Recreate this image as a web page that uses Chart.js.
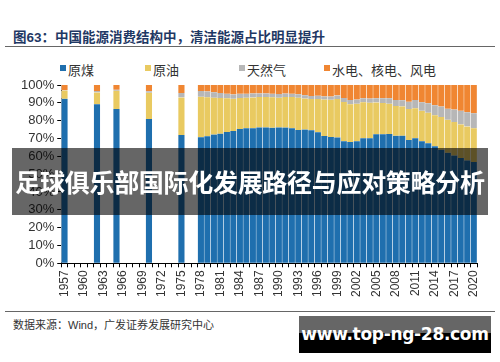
<!DOCTYPE html>
<html>
<head>
<meta charset="utf-8">
<script src="https://cdn.jsdelivr.net/npm/chart.js@4"></script>
<style>
  body { margin: 0; width: 500px; height: 362px; background: #fff; position: relative; overflow: hidden;
         font-family: "Liberation Sans", Arial, "Noto Sans CJK SC", sans-serif; }
  .title { position: absolute; left: 13px; top: 26px; font-size: 13.5px; font-weight: bold; color: #1f3864;
           font-family: "Liberation Sans", "Noto Sans CJK SC", sans-serif; white-space: nowrap; }
  .rule { position: absolute; left: 5px; width: 490px; height: 1px; background: #666; }
  .source { position: absolute; left: 13px; top: 316px; font-size: 11px; color: #333; white-space: nowrap;
            font-family: "Liberation Sans", "Noto Sans CJK SC", sans-serif; }
  .lg { position: absolute; top: 60px; font-size: 13px; color: #333; white-space: nowrap;
        font-family: "Noto Sans CJK SC", sans-serif; }
  .lg i { position: absolute; left: -8px; top: 5px; width: 6px; height: 6px; }
  #wrap { position: absolute; left: 0; top: 55px; width: 500px; height: 255px; }
  .band { position: absolute; left: 12px; top: 148px; width: 476px; height: 67px; background: rgba(0,0,0,0.6);
          color: #fff; font-weight: bold; font-size: 25px; line-height: 67px; text-align: center;
          font-family: "Noto Sans CJK SC", sans-serif; white-space: nowrap; letter-spacing: -0.3px; }
  .site { position: absolute; left: 299px; top: 316px; width: 192px; height: 37px;
          background: linear-gradient(#666 0, #666 46%, #000 46%, #000 100%);
          color: #fff; font-weight: bold; font-size: 17px; line-height: 37px; text-align: center;
          font-family: "DejaVu Sans", sans-serif; white-space: nowrap; letter-spacing: -0.3px; }
</style>
</head>
<body>
<div class="title">图63：中国能源消费结构中，清洁能源占比明显提升</div>
<div class="rule" style="top:46px"></div>
<div class="lg" style="left:68px"><i style="background:#1f6fae"></i>原煤</div>
<div class="lg" style="left:153px"><i style="background:#e9ca61"></i>原油</div>
<div class="lg" style="left:247px"><i style="background:#b7b7b7"></i>天然气</div>
<div class="lg" style="left:332px"><i style="background:#f08632"></i>水电、核电、风电</div>
<div id="wrap"><canvas id="c"></canvas></div>
<div class="rule" style="top:311px"></div>
<div class="source">数据来源：Wind，广发证券发展研究中心</div>
<div class="band">足球俱乐部国际化发展路径与应对策略分析</div>
<div class="site">www.top-ng-28.com</div>

<script>
// years 1957..2020 as categories; missing years are null
const years = [];
for (let y = 1957; y <= 2020; y++) years.push(String(y));

const dataYears = [1957, 1962, 1965, 1970, 1975,
  1978, 1979, 1980, 1981, 1982, 1983, 1984, 1985, 1986, 1987, 1988, 1989, 1990, 1991, 1992,
  1993, 1994, 1995, 1996, 1997, 1998, 1999, 2000, 2001, 2002, 2003, 2004, 2005, 2006, 2007,
  2008, 2009, 2010, 2011, 2012, 2013, 2014, 2015, 2016, 2017, 2018, 2019, 2020];

const coal = [92.3, 89.2, 86.5, 80.9, 71.9,
  70.7, 71.3, 72.2, 72.7, 73.7, 74.2, 75.3, 75.8, 75.8, 76.2, 76.2, 76.0, 76.2, 76.1, 75.7,
  74.7, 75.0, 74.6, 73.5, 71.4, 70.9, 70.6, 68.5, 68.0, 68.5, 70.2, 70.2, 72.4, 72.4, 72.5,
  71.5, 71.6, 69.2, 70.2, 68.5, 67.4, 65.6, 63.7, 62.0, 60.4, 59.0, 57.7, 56.8];
const oil = [4.6, 6.6, 10.3, 14.7, 21.1,
  22.7, 21.8, 20.7, 20.0, 18.9, 18.1, 17.4, 17.1, 17.2, 17.0, 17.0, 17.1, 16.6, 17.1, 17.5,
  18.2, 17.4, 17.5, 18.7, 20.4, 20.8, 21.5, 22.0, 21.2, 21.0, 20.1, 19.9, 17.8, 17.5, 17.0,
  16.7, 16.4, 17.4, 16.8, 17.0, 17.1, 17.4, 18.3, 18.5, 18.8, 18.9, 19.0, 18.9];
const gas = [0.1, 0.9, 0.6, 0.9, 2.5,
  3.2, 3.3, 3.1, 2.8, 2.5, 2.4, 2.4, 2.2, 2.3, 2.1, 2.1, 2.0, 2.1, 2.0, 1.9,
  1.9, 1.9, 1.8, 1.8, 1.8, 1.8, 2.0, 2.2, 2.4, 2.3, 2.3, 2.3, 2.4, 2.7, 3.0,
  3.4, 3.5, 4.0, 4.6, 4.8, 5.3, 5.7, 5.9, 6.2, 7.0, 7.6, 8.0, 8.4];
const clean = [3.0, 3.3, 2.6, 3.5, 4.5,
  3.4, 3.6, 4.0, 4.5, 4.9, 5.3, 4.9, 4.9, 4.7, 4.7, 4.7, 4.9, 5.1, 4.8, 4.9,
  5.2, 5.7, 6.1, 6.0, 6.4, 6.5, 5.9, 7.3, 8.4, 8.2, 7.4, 7.6, 7.4, 7.4, 7.5,
  8.4, 8.5, 9.4, 8.4, 9.7, 10.2, 11.3, 12.1, 13.3, 13.8, 14.5, 15.3, 15.9];

function spread(arr) {
  return years.map(y => {
    const i = dataYears.indexOf(Number(y));
    return i < 0 ? null : arr[i];
  });
}

const ds = (label, arr, color) => ({
  label: label,
  data: spread(arr),
  backgroundColor: color,
  borderColor: '#ffffff',
  borderWidth: { left: 0.5, right: 0.5, top: 0, bottom: 0 },
  borderSkipped: false,
  barPercentage: 1,
  categoryPercentage: 1
});

new Chart(document.getElementById('c'), {
  type: 'bar',
  data: {
    labels: years,
    datasets: [
      ds('原煤', coal, '#1f6fae'),
      ds('原油', oil, '#e9ca61'),
      ds('天然气', gas, '#b7b7b7'),
      ds('水电、核电、风电', clean, '#f08632')
    ]
  },
  options: {
    responsive: true,
    maintainAspectRatio: false,
    animation: false,
    layout: { padding: { top: 30, right: 23, left: 18, bottom: 10 } },
    plugins: { legend: { display: false }, tooltip: { enabled: false } },
    scales: {
      x: {
        stacked: true,
        border: { color: '#000', width: 1 },
        grid: { display: true, drawOnChartArea: false, offset: true, color: '#000', tickLength: 4 },
        ticks: {
          autoSkip: false,
          minRotation: 90,
          maxRotation: 90,
          color: '#333',
          font: { size: 12, family: 'Liberation Sans' },
          callback: function (value, index) {
            return index % 3 === 0 ? years[index] : '';
          }
        }
      },
      y: {
        stacked: true,
        min: 0,
        max: 100,
        border: { color: '#000', width: 1 },
        grid: { display: true, drawOnChartArea: false, color: '#000', tickLength: 4 },
        ticks: {
          autoSkip: false,
          stepSize: 10,
          padding: 3,
          color: '#333',
          font: { size: 13, family: 'Liberation Sans' },
          callback: v => v + '%'
        }
      }
    }
  }
});
</script>
</body>
</html>
